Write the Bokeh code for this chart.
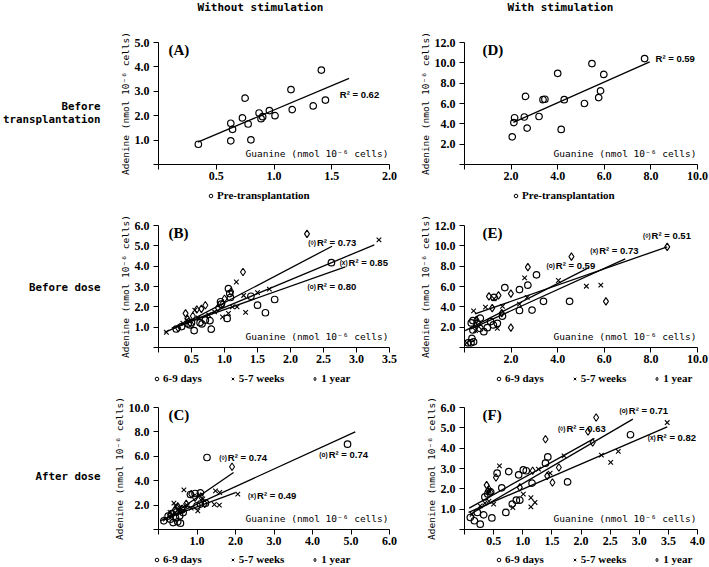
from bokeh.plotting import figure
from bokeh.models import Label, Legend, LegendItem, FixedTicker, Range1d
from bokeh.layouts import column, row
from bokeh.embed import file_html
from bokeh.resources import INLINE

# ---------------- data ----------------
# Panel A: without stimulation, pre-transplantation
A_x = [0.345, 0.626, 0.641, 0.626, 0.727, 0.75, 0.776, 0.80, 0.871, 0.888, 0.902, 0.96, 1.009, 1.147, 1.158, 1.34, 1.41, 1.445]
A_y = [0.83, 1.69, 1.44, 0.97, 1.91, 2.72, 1.66, 1.01, 2.11, 1.88, 1.96, 2.21, 2.00, 3.07, 2.25, 2.40, 3.87, 2.64]
A_fit_x = [0.34, 1.65]
A_fit_y = [0.92, 3.53]

# Panel D: with stimulation, pre-transplantation
D_x = [2.05, 2.12, 2.15, 2.57, 2.62, 2.69, 3.20, 3.37, 3.45, 4.00, 4.28, 4.15, 5.15, 5.47, 5.76, 5.84, 5.98, 7.73]
D_y = [2.72, 4.12, 4.60, 4.67, 6.70, 3.58, 4.72, 6.38, 6.42, 8.97, 6.38, 3.45, 6.00, 9.93, 6.58, 7.24, 8.86, 10.42]
D_fit_x = [2.10, 7.95]
D_fit_y = [4.15, 10.10]

# Panel B: without stimulation, before dose
B_c_x = [0.27, 0.35, 0.45, 0.48, 0.50, 0.54, 0.63, 0.66, 0.71, 0.78, 0.80, 0.94, 0.95, 1.04, 1.06, 1.08, 1.09, 1.40, 1.50, 1.62, 1.76, 2.62]
B_c_y = [0.91, 1.03, 1.16, 1.11, 1.22, 0.83, 1.22, 1.16, 1.35, 1.32, 0.90, 2.25, 2.13, 1.43, 2.90, 2.65, 2.46, 2.52, 2.08, 1.71, 2.36, 4.17]
B_x_x = [0.12, 0.37, 0.43, 0.47, 0.55, 0.60, 0.76, 0.85, 0.97, 1.06, 1.12, 1.18, 1.19, 1.29, 1.32, 1.50, 1.68, 3.34]
B_x_y = [0.75, 1.19, 1.35, 1.28, 1.84, 1.45, 1.60, 1.75, 1.50, 1.68, 2.00, 3.22, 2.00, 2.56, 1.73, 2.70, 2.87, 5.29]
B_d_x = [0.30, 0.41, 0.44, 0.52, 0.58, 0.65, 0.71, 0.90, 0.97, 1.00, 1.10, 1.28, 2.25]
B_d_y = [0.95, 1.68, 1.40, 1.55, 1.87, 1.90, 2.08, 1.95, 2.15, 2.40, 2.75, 3.71, 5.59]
B_fit_c = ([0.20, 2.83], [0.95, 3.96])
B_fit_x = ([0.09, 3.27], [0.74, 5.05])
B_fit_d = ([0.35, 2.63], [1.10, 4.98])

# Panel E: with stimulation, before dose
E_c_x = [0.15, 0.28, 0.39, 0.32, 0.36, 0.29, 0.36, 0.66, 0.83, 0.98, 1.24, 1.41, 1.63, 1.73, 2.36, 2.90, 3.09, 3.39, 4.51, 2.72, 2.36, 1.12, 0.54, 1.27, 0.68]
E_c_y = [0.46, 0.46, 0.56, 0.89, 1.72, 2.42, 2.65, 1.89, 1.56, 1.95, 2.22, 2.38, 3.08, 5.89, 3.64, 3.68, 7.15, 4.54, 4.54, 6.13, 5.70, 2.55, 2.38, 4.93, 2.88]
E_x_x = [0.10, 0.47, 0.39, 0.90, 1.27, 1.63, 2.58, 2.69, 4.03, 5.23, 5.85, 2.36, 1.41, 0.61]
E_x_y = [0.46, 1.66, 3.60, 3.97, 4.80, 4.04, 6.85, 4.93, 6.59, 6.03, 6.13, 4.27, 1.89, 2.05]
E_d_x = [1.05, 1.46, 1.99, 2.72, 4.59, 8.70, 1.99, 6.07, 1.19, 1.60, 0.51]
E_d_y = [5.03, 5.13, 5.30, 7.91, 8.94, 9.90, 1.95, 4.54, 3.87, 3.38, 2.72]
E_fit_c = ([0.03, 5.34], [1.66, 7.85])
E_fit_x = ([0.25, 6.90], [1.80, 8.72])
E_fit_d = ([0.45, 8.70], [3.30, 9.90])

# Panel C: without stimulation, after dose
C_c_x = [0.14, 0.31, 0.38, 0.44, 0.50, 0.57, 0.55, 0.64, 0.83, 0.95, 1.09, 1.26, 4.91, 1.00, 1.09, 1.22, 0.25, 0.35, 0.47, 0.60]
C_c_y = [0.71, 0.85, 0.57, 0.98, 0.63, 0.52, 1.12, 1.39, 2.87, 2.95, 3.00, 5.90, 6.99, 1.94, 2.08, 2.16, 1.10, 1.30, 1.45, 1.60]
C_x_x = [0.18, 0.40, 0.45, 0.66, 1.02, 1.05, 1.15, 1.48, 1.59, 1.45, 1.58, 2.06, 0.30, 0.55, 0.75, 0.85]
C_x_y = [0.85, 2.16, 1.90, 3.25, 1.53, 2.80, 2.50, 3.17, 3.03, 2.05, 2.00, 2.90, 1.40, 1.80, 1.95, 1.75]
C_d_x = [1.91, 0.30, 0.42, 0.50, 0.62, 0.72, 0.95, 1.10, 1.20, 0.85]
C_d_y = [5.14, 1.20, 1.60, 1.90, 1.70, 2.10, 2.60, 2.70, 2.10, 2.90]
C_fit_c = ([0.05, 5.11], [0.71, 8.00])
C_fit_x = ([0.14, 2.00], [0.85, 3.03])
C_fit_d = ([0.30, 1.95], [1.10, 4.67])

# Panel F: with stimulation, after dose
F_c_x = [0.10, 0.17, 0.27, 0.22, 0.33, 0.47, 0.56, 0.64, 0.76, 0.71, 0.82, 0.89, 0.95, 0.93, 1.01, 1.06, 1.16, 1.39, 1.43, 1.77, 2.85, 0.45, 0.35, 0.40]
F_c_y = [0.59, 0.43, 0.26, 0.84, 0.72, 0.57, 2.77, 2.05, 2.85, 0.84, 1.25, 1.44, 1.44, 2.69, 2.93, 2.89, 2.28, 3.26, 3.57, 2.34, 4.66, 1.85, 1.60, 1.75]
F_x_x = [0.13, 0.27, 0.42, 0.60, 0.83, 1.01, 1.14, 1.21, 1.14, 1.27, 1.47, 1.71, 2.35, 2.51, 2.64, 3.48, 0.35, 0.50]
F_x_y = [0.75, 1.16, 1.39, 3.13, 1.08, 1.74, 1.56, 1.33, 1.11, 2.97, 2.77, 3.62, 3.66, 3.30, 3.84, 5.26, 1.30, 1.25]
F_d_x = [0.42, 0.45, 0.38, 1.39, 1.42, 1.62, 1.51, 2.12, 2.26, 2.20, 0.54, 0.95, 1.17, 0.40]
F_d_y = [1.98, 1.82, 2.18, 4.44, 2.64, 3.05, 2.31, 4.82, 5.51, 4.28, 2.56, 2.07, 2.89, 1.90]
F_fit_c = ([0.10, 2.89], [0.75, 5.43])
F_fit_x = ([0.07, 3.48], [0.84, 5.05])
F_fit_d = ([0.08, 2.23], [1.05, 4.48])

# R-squared annotations: (prefix, text, x, y)
A_r2 = [("", "R\u00b2 = 0.62", 1.57, 2.87)]
D_r2 = [("", "R\u00b2 = 0.59", 8.20, 10.45)]
B_r2 = [("(\u25ca)", "R\u00b2 = 0.73", 2.40, 5.18), ("(x)", "R\u00b2 = 0.85", 2.88, 4.20), ("(o)", "R\u00b2 = 0.80", 2.40, 3.00)]
E_r2 = [("(\u25ca)", "R\u00b2 = 0.51", 8.03, 11.00), ("(x)", "R\u00b2 = 0.73", 5.78, 9.57), ("(o)", "R\u00b2 = 0.59", 3.92, 8.08)]
C_r2 = [("(\u25ca)", "R\u00b2 = 0.74", 1.80, 5.90), ("(o)", "R\u00b2 = 0.74", 4.42, 6.12), ("(x)", "R\u00b2 = 0.49", 2.56, 2.81)]
F_r2 = [("(\u25ca)", "R\u00b2 = 0.63", 1.75, 4.97), ("(o)", "R\u00b2 = 0.71", 2.82, 5.84), ("(x)", "R\u00b2 = 0.82", 3.30, 4.52)]

# axes
A_xticks = [0, 0.5, 1.0, 1.5, 2.0]; A_xlab = ["", "0.5", "1.0", "1.5", "2.0"]
A_yticks = [0, 1, 2, 3, 4, 5]; A_ylab = ["", "1.0", "2.0", "3.0", "4.0", "5.0"]
D_xticks = [0, 2, 4, 6, 8, 10]; D_xlab = ["", "2.0", "4.0", "6.0", "8.0", "10.0"]
D_yticks = [0, 2, 4, 6, 8, 10, 12]; D_ylab = ["", "2.0", "4.0", "6.0", "8.0", "10.0", "12.0"]
B_xticks = [0, 0.5, 1.0, 1.5, 2.0, 2.5, 3.0, 3.5]; B_xlab = ["", "0.5", "1.0", "1.5", "2.0", "2.5", "3.0", "3.5"]
B_yticks = [0, 1, 2, 3, 4, 5, 6]; B_ylab = ["", "1.0", "2.0", "3.0", "4.0", "5.0", "6.0"]
E_xticks = D_xticks; E_xlab = D_xlab
E_yticks = D_yticks; E_ylab = D_ylab
C_xticks = [0, 1, 2, 3, 4, 5, 6]; C_xlab = ["", "1.0", "2.0", "3.0", "4.0", "5.0", "6.0"]
C_yticks = [0, 2, 4, 6, 8, 10]; C_ylab = ["", "2.0", "4.0", "6.0", "8.0", "10.0"]
F_xticks = [0, 0.5, 1.0, 1.5, 2.0, 2.5, 3.0, 3.5, 4.0]; F_xlab = ["", "0.5", "1.0", "1.5", "2.0", "2.5", "3.0", "3.5", "4.0"]
F_yticks = [0, 1, 2, 3, 4, 5, 6]; F_ylab = ["", "1.0", "2.0", "3.0", "4.0", "5.0", "6.0"]

X_TITLE = "Guanine (nmol 10\u207b\u2076 cells)"
Y_TITLE = "Adenine (nmol 10\u207b\u2076 cells)"
COL_TITLES = ["Without stimulation", "With stimulation"]
ROW_TITLES = [["Before", "transplantation"], ["Before dose"], ["After dose"]]
SERIES = ["6-9 days", "5-7 weeks", "1 year"]
PRE = "Pre-transplantation"

MONO = "DejaVu Sans Mono"
SERIF = "Liberation Serif"
SANS = "Liberation Sans"

# geometry (canvas pixels)
TOTAL_W = 709
HDR_W = 108
LW, RW = 304, 297
LBL, LBR = 50, 23
RBL, RBR = 52, 12
HEAD_H = 14
FH = 122
BB = 22
TOPS = [28, 21, 20]
LEG_H = [18, 18, 16]
GLYPH = 9


def blank(w, h):
    p = figure(width=w, height=h, x_range=Range1d(0, w), y_range=Range1d(0, h),
               output_backend="svg", toolbar_location=None, frame_align=False,
               x_axis_location=None, y_axis_location=None, min_border=0)
    p.grid.visible = False
    p.outline_line_color = None
    p.background_fill_color = None
    p.border_fill_color = None
    return p


def text(p, x, y, s, size="11px", align="left", style="bold", font=MONO):
    p.add_layout(Label(x=x, y=y, x_units="screen", y_units="screen", text=s,
                       text_font=font, text_font_style=style, text_font_size=size,
                       text_align=align, text_baseline="middle", text_color="black"))


def make_panel(w, bl, br, bt, xmax, ymax, xt, xl, yt, yl, letter, letter_x, xtitle_right):
    p = figure(width=w, height=bt + FH + BB, x_range=Range1d(0, xmax), y_range=Range1d(0, ymax),
               output_backend="svg", toolbar_location=None, frame_align=False,
               min_border_left=bl, min_border_right=br, min_border_top=bt, min_border_bottom=BB)
    p.grid.visible = False
    p.outline_line_color = None
    p.background_fill_color = "white"
    p.border_fill_color = "white"
    for ax, ticks, labs in ((p.xaxis[0], xt, xl), (p.yaxis[0], yt, yl)):
        ax.ticker = FixedTicker(ticks=ticks)
        ax.major_label_overrides = {t: s for t, s in zip(ticks, labs)}
        ax.axis_line_color = "black"
        ax.axis_line_width = 1
        ax.major_tick_line_color = "black"
        ax.major_tick_out = 5
        ax.major_tick_in = 0
        ax.minor_tick_line_color = None
        ax.major_label_text_font = SERIF
        ax.major_label_text_font_style = "bold"
        ax.major_label_text_font_size = "12px"
        ax.major_label_text_color = "black"
    p.xaxis[0].major_label_standoff = 2
    p.yaxis[0].major_label_standoff = 4
    p.yaxis[0].axis_label = Y_TITLE
    p.yaxis[0].axis_label_standoff = 1
    p.yaxis[0].axis_label_text_font = MONO
    p.yaxis[0].axis_label_text_font_style = "normal"
    p.yaxis[0].axis_label_text_font_size = "9.5px"
    p.yaxis[0].axis_label_text_color = "black"
    text(p, letter_x, FH - 7, letter, size="15px", font=SERIF)
    text(p, xtitle_right, 11, X_TITLE, size="9.5px", align="right", style="normal")
    return p


def add_r2(p, items):
    for pre, txt, x, y in items:
        p.add_layout(Label(x=x, y=y, text=txt, text_font=SANS, text_font_style="bold",
                           text_font_size="9.5px", text_baseline="middle", text_align="left",
                           text_color="black"))
        if pre:
            p.add_layout(Label(x=x, y=y, x_offset=-1, text=pre, text_font=SANS, text_font_style="bold",
                               text_font_size="6.5px", text_baseline="middle", text_align="right",
                               text_color="black"))


def legend_fig(w, h, series, labels, x):
    # legend keys are drawn from hidden copies of the panel's own series
    f = blank(w, h)
    rs = []
    for (m, sx, sy) in series:
        if m == "x":
            r = f.scatter(sx, sy, marker="x", size=5, line_color="black", line_width=1.0)
        else:
            r = f.scatter(sx, sy, marker=m, size=5, fill_color=None, line_color="black", line_width=1.0)
        r.visible = False
        rs.append(r)
    lg = Legend(items=[LegendItem(label=l, renderers=[r]) for r, l in zip(rs, labels)],
                location=(x + 12 - GLYPH, (h - 12) / 2), orientation="horizontal", padding=0, margin=0,
                spacing=23 + 12 - GLYPH,
                glyph_width=GLYPH, glyph_height=GLYPH, label_standoff=2, label_height=12,
                border_line_color=None, background_fill_alpha=0, inactive_fill_alpha=0,
                label_text_font=SERIF, label_text_font_style="bold", label_text_font_size="11px",
                label_text_color="black")
    f.add_layout(lg)
    return f


def scatter3(p, cx, cy, xx, xy, dx, dy):
    p.scatter(cx, cy, marker="circle", size=6.5, fill_color=None, line_color="black", line_width=1.2)
    p.scatter(xx, xy, marker="x", size=6.5, line_color="black", line_width=1.1)
    p.scatter(dx, dy, marker="diamond", size=7.5, fill_color=None, line_color="black", line_width=1.1)


def fits(p, *lines):
    for lx, ly in lines:
        p.line(lx, ly, line_color="black", line_width=1.3)


LFW = LW - LBL - LBR   # left frame width
RFW = RW - RBL - RBR   # right frame width
LEFT_W = HDR_W + LW

# ---- header ----
head = blank(TOTAL_W, HEAD_H)
text(head, 260, HEAD_H / 2, COL_TITLES[0], align="center")
text(head, 560, HEAD_H / 2, COL_TITLES[1], align="center")

# ---- Row 1 ----
RH1 = TOPS[0] + FH + BB
h1 = blank(HDR_W, RH1)
text(h1, 100, RH1 - 92, ROW_TITLES[0][0], size="10.8px", align="right")
text(h1, 100, RH1 - 105, ROW_TITLES[0][1], size="10.8px", align="right")

pA = make_panel(LW, LBL, LBR, TOPS[0], 2.0, 5.0, A_xticks, A_xlab, A_yticks, A_ylab, "(A)", 10, LFW - 1)
pA.scatter(A_x, A_y, marker="circle", size=6.5, fill_color=None, line_color="black", line_width=1.2)
pA.line(A_fit_x, A_fit_y, line_color="black", line_width=1.3)
add_r2(pA, A_r2)

pD = make_panel(RW, RBL, RBR, TOPS[0], 10.0, 12.0, D_xticks, D_xlab, D_yticks, D_ylab, "(D)", 18, RFW - 1)
pD.scatter(D_x, D_y, marker="circle", size=6.5, fill_color=None, line_color="black", line_width=1.2)
pD.line(D_fit_x, D_fit_y, line_color="black", line_width=1.3)
add_r2(pD, D_r2)

legA = legend_fig(LEFT_W, LEG_H[0], [("circle", A_x, A_y)], [PRE], 203)
legD = legend_fig(RW, LEG_H[0], [("circle", D_x, D_y)], [PRE], 96)

# ---- Row 2 ----
RH2 = TOPS[1] + FH + BB
h2 = blank(HDR_W, RH2)
text(h2, 100, RH2 - 83, ROW_TITLES[1][0], size="10.8px", align="right")

pB = make_panel(LW, LBL, LBR, TOPS[1], 3.5, 6.0, B_xticks, B_xlab, B_yticks, B_ylab, "(B)", 10, LFW - 1)
scatter3(pB, B_c_x, B_c_y, B_x_x, B_x_y, B_d_x, B_d_y)
fits(pB, B_fit_c, B_fit_x, B_fit_d)
add_r2(pB, B_r2)

pE = make_panel(RW, RBL, RBR, TOPS[1], 10.0, 12.0, E_xticks, E_xlab, E_yticks, E_ylab, "(E)", 18, RFW - 1)
scatter3(pE, E_c_x, E_c_y, E_x_x, E_x_y, E_d_x, E_d_y)
fits(pE, E_fit_c, E_fit_x, E_fit_d)
add_r2(pE, E_r2)

legB = legend_fig(LEFT_W, LEG_H[1], [("circle", B_c_x, B_c_y), ("x", B_x_x, B_x_y), ("diamond", B_d_x, B_d_y)], SERIES, 149)
legE = legend_fig(RW, LEG_H[1], [("circle", E_c_x, E_c_y), ("x", E_x_x, E_x_y), ("diamond", E_d_x, E_d_y)], SERIES, 79)

# ---- Row 3 ----
RH3 = TOPS[2] + FH + BB
h3 = blank(HDR_W, RH3)
text(h3, 100, RH3 - 89, ROW_TITLES[2][0], size="10.8px", align="right")

pC = make_panel(LW, LBL, LBR, TOPS[2], 6.0, 10.0, C_xticks, C_xlab, C_yticks, C_ylab, "(C)", 10, LFW - 1)
scatter3(pC, C_c_x, C_c_y, C_x_x, C_x_y, C_d_x, C_d_y)
fits(pC, C_fit_c, C_fit_x, C_fit_d)
add_r2(pC, C_r2)

pF = make_panel(RW, RBL, RBR, TOPS[2], 4.0, 6.0, F_xticks, F_xlab, F_yticks, F_ylab, "(F)", 18, RFW - 1)
scatter3(pF, F_c_x, F_c_y, F_x_x, F_x_y, F_d_x, F_d_y)
fits(pF, F_fit_c, F_fit_x, F_fit_d)
add_r2(pF, F_r2)

legC = legend_fig(LEFT_W, LEG_H[2], [("circle", C_c_x, C_c_y), ("x", C_x_x, C_x_y), ("diamond", C_d_x, C_d_y)], SERIES, 149)
legF = legend_fig(RW, LEG_H[2], [("circle", F_c_x, F_c_y), ("x", F_x_x, F_x_y), ("diamond", F_d_x, F_d_y)], SERIES, 79)

layout = column(head,
                row(h1, pA, pD, spacing=0),
                row(legA, legD, spacing=0),
                row(h2, pB, pE, spacing=0),
                row(legB, legE, spacing=0),
                row(h3, pC, pF, spacing=0),
                row(legC, legF, spacing=0),
                spacing=0)

open("out.html", "w").write(file_html(layout, INLINE))
